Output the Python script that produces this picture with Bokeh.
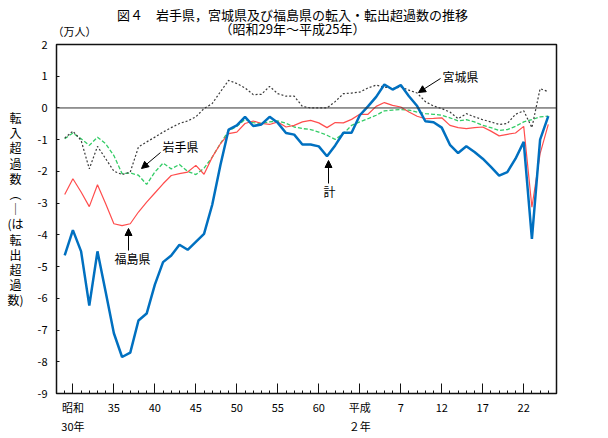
from bokeh.plotting import figure
from bokeh.layouts import column, row
from bokeh.models import Range1d, FixedTicker, Span, Label, Arrow, NormalHead, ColumnDataSource
from bokeh.core.properties import value
from bokeh.embed import file_html
from bokeh.resources import INLINE

years = list(range(1954, 2014))

total = [-4.65, -3.85, -4.52, -6.23, -4.52, -5.80, -7.10, -7.85, -7.71, -6.70,
         -6.48, -5.57, -4.86, -4.65, -4.31, -4.47, -4.22, -3.97, -3.05, -1.80,
         -0.68, -0.55, -0.28, -0.57, -0.52, -0.28, -0.47, -0.79, -0.84, -1.15,
         -1.15, -1.21, -1.52, -1.18, -0.78, -0.78, -0.23, 0.05, 0.35, 0.74,
         0.58, 0.72, 0.37, 0.06, -0.42, -0.45, -0.62, -1.16, -1.42, -1.21,
         -1.39, -1.60, -1.86, -2.13, -2.02, -1.60, -1.07, -4.13, -1.00, -0.26]

fukushima = [-2.73, -2.23, -2.65, -3.11, -2.42, -3.02, -3.65, -3.71, -3.65, -3.28,
             -2.97, -2.68, -2.39, -2.13, -2.07, -2.02, -1.81, -2.09, -1.55, -1.13,
             -0.81, -0.76, -0.49, -0.41, -0.49, -0.52, -0.44, -0.60, -0.55, -0.44,
             -0.39, -0.47, -0.62, -0.46, -0.47, -0.36, -0.20, -0.20, 0.05, 0.17,
             0.08, 0.03, -0.13, -0.26, -0.34, -0.33, -0.31, -0.55, -0.62, -0.65,
             -0.62, -0.60, -0.73, -0.88, -0.83, -0.79, -0.58, -3.13, -1.44, -0.52]

iwate = [-0.97, -0.79, -0.97, -1.18, -0.92, -1.13, -1.50, -2.07, -2.05, -2.12,
         -2.41, -2.02, -1.74, -1.92, -1.78, -2.00, -2.10, -1.90, -1.55, -1.12,
         -0.72, -0.58, -0.36, -0.46, -0.49, -0.44, -0.41, -0.48, -0.60, -0.65,
         -0.68, -0.76, -0.86, -0.99, -0.81, -0.55, -0.44, -0.34, -0.23, -0.09,
         -0.07, -0.05, -0.07, -0.13, -0.18, -0.20, -0.23, -0.31, -0.41, -0.37,
         -0.44, -0.55, -0.62, -0.71, -0.68, -0.58, -0.44, -0.37, -0.28, -0.26]

miyagi = [-0.95, -0.73, -1.02, -1.92, -1.21, -1.60, -1.99, -2.10, -2.02, -1.23,
          -1.07, -0.92, -0.76, -0.62, -0.49, -0.41, -0.28, -0.02, 0.14, 0.51,
          0.87, 0.77, 0.63, 0.42, 0.43, 0.68, 0.45, 0.37, 0.37, 0.05,
          0.00, 0.00, 0.00, 0.20, 0.45, 0.47, 0.50, 0.63, 0.72, 0.66,
          0.61, 0.66, 0.56, 0.47, 0.20, 0.06, -0.02, -0.13, -0.34, -0.18,
          -0.28, -0.37, -0.44, -0.52, -0.49, -0.20, -0.09, -0.62, 0.61, 0.51]

x_tick_years = [1955, 1960, 1965, 1970, 1975, 1980, 1985, 1990, 1995, 2000, 2005, 2010]
x_tick_labels = ["昭和\n30年", "35", "40", "45", "50", "55", "60", "平成\n２年", "7", "12", "17", "22"]
y_ticks = list(range(-9, 3))

title_lines = ["図４　岩手県，宮城県及び福島県の転入・転出超過数の推移", "（昭和29年～平成25年）"]
unit_text = "（万人）"
y_title_chars = ["転", "入", "超", "過", "数", "︵", "｜", "(は", "転", "出", "超", "過", "数)"]

FONT = "Noto Sans CJK JP"
HEAD_H = 37
TOP = 44 - HEAD_H      # border above the plot frame inside the lower row
BOTTOM = 45            # border below the plot frame


def blank(w, h, yr, top=0, bottom=0):
    f = figure(width=w, height=h, x_range=Range1d(0, w), y_range=yr,
               output_backend="svg", toolbar_location=None,
               x_axis_type=None, y_axis_type=None,
               min_border=0, min_border_left=0, min_border_right=0,
               min_border_top=top, min_border_bottom=bottom)
    f.outline_line_color = None
    f.xgrid.visible = False
    f.ygrid.visible = False
    f.background_fill_color = "white"
    f.border_fill_color = "white"
    return f


# header strip with title and unit (y in page pixels)
header = blank(608, HEAD_H, Range1d(HEAD_H, 0))
header.text(x=[292, 292], y=[14, 28], text=title_lines, text_align="center",
            text_baseline="middle", text_font=value(FONT), text_font_size="13px",
            text_color="black")
header.text(x=[52], y=[30], text=[unit_text], text_align="left", text_baseline="middle",
            text_font=value(FONT), text_font_size="11px", text_color="black")

# left strip with the vertical axis title; frame spans page y 44..393
left = blank(30, 438 - HEAD_H, Range1d(393, 44), top=TOP, bottom=BOTTOM)
n = len(y_title_chars)
left.text(x=[15] * n, y=[117 + 15.2 * i for i in range(n)], text=y_title_chars,
          text_align="center", text_baseline="middle", text_font=value(FONT),
          text_font_size="12px", text_color="black")

src = ColumnDataSource(dict(year=years, total=total, fukushima=fukushima, iwate=iwate, miyagi=miyagi))

p = figure(width=578, height=438 - HEAD_H, x_range=Range1d(1953, 2014), y_range=Range1d(-9, 2),
           output_backend="svg", toolbar_location=None,
           min_border_left=26, min_border_right=52, min_border_top=TOP, min_border_bottom=BOTTOM)
p.xgrid.visible = False
p.ygrid.visible = False
p.outline_line_color = "#111111"
p.outline_line_width = 1.5
p.background_fill_color = "white"
p.border_fill_color = "white"

p.xaxis.ticker = FixedTicker(ticks=x_tick_years, minor_ticks=list(range(1953, 2015)))
p.xaxis.major_label_overrides = {y: l for y, l in zip(x_tick_years, x_tick_labels)}
p.xaxis.major_tick_in = 10
p.xaxis.major_tick_out = 0
p.xaxis.minor_tick_in = 3
p.xaxis.minor_tick_out = 0
p.xaxis.major_label_standoff = 5
p.xaxis.axis_line_color = "#111111"
p.xaxis.major_tick_line_color = "#111111"
p.xaxis.minor_tick_line_color = "#111111"

p.yaxis.ticker = FixedTicker(ticks=y_ticks, minor_ticks=[])
p.yaxis.major_label_overrides = {v: str(v) for v in y_ticks}
p.yaxis.major_tick_in = 3
p.yaxis.major_tick_out = 0
p.yaxis.major_label_standoff = 9
p.yaxis.axis_line_color = "#111111"
p.yaxis.major_tick_line_color = "#111111"

for ax in (p.xaxis, p.yaxis):
    ax.major_label_text_font = FONT
    ax.major_label_text_font_size = "11px"
    ax.major_label_text_color = "black"

p.add_layout(Span(location=0, dimension="width", line_color="#333333", line_width=1))

p.line("year", "iwate", source=src, line_color="#33CC66", line_width=1.3, line_dash="4 2")
p.line("year", "miyagi", source=src, line_color="#3a3a3a", line_width=1.2, line_dash="2 2")
p.line("year", "fukushima", source=src, line_color="#FF4D4D", line_width=1.2)
p.line("year", "total", source=src, line_color="#0070C0", line_width=2.5)

# page-pixel helpers (frame: x 56..556 => 1953..2014, y 44..393 => 2..-9)
def dx(px):
    return 1953 + (px - 56) * 61 / 500

def dy(py):
    return 2 - (py - 44) * 11 / 349

def lab(text, px, py, align="left"):
    p.add_layout(Label(x=dx(px), y=dy(py), text=text, text_font=FONT, text_font_size="12px",
                       text_align=align, text_baseline="middle", text_color="black"))

def arrow(x0, y0, x1, y1):
    p.add_layout(Arrow(end=NormalHead(size=7, fill_color="black", line_color="black"),
                       x_start=dx(x0), y_start=dy(y0), x_end=dx(x1), y_end=dy(y1),
                       line_color="black", line_width=1))

lab("岩手県", 162, 146)
arrow(160, 152, 141, 168)
lab("福島県", 132, 258, align="center")
arrow(128, 250, 128, 228)
lab("計", 329, 191, align="center")
arrow(328, 183, 328, 160)
lab("宮城県", 442, 76)
arrow(440, 78, 418, 92)

layout = column(header, row(left, p, spacing=0), spacing=0)

open("out.html", "w").write(file_html(layout, INLINE))
